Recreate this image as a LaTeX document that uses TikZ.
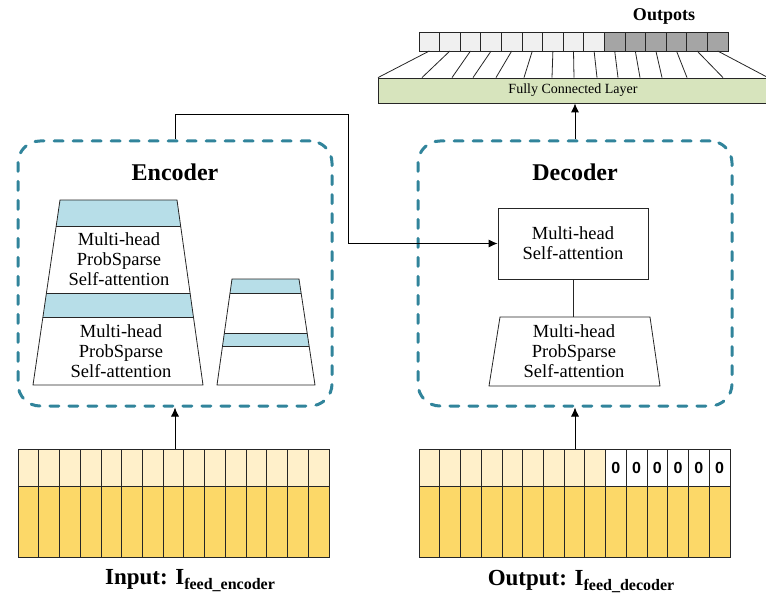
\documentclass[tikz,border=0pt]{standalone}
\usepackage{fontspec}
\setmainfont{Liberation Serif}
\newfontfamily\digitfont{Liberation Sans}
\usepackage{tikz}
\usetikzlibrary{positioning,arrows.meta,calc}

\definecolor{dashteal}{HTML}{31849B}
\definecolor{bandblue}{HTML}{B7DEE8}
\definecolor{cellpale}{HTML}{FFF0CA}
\definecolor{cellgold}{HTML}{FCD868}
\definecolor{fcgreen}{HTML}{D7E4BD}
\definecolor{outlight}{HTML}{F0F0F0}
\definecolor{outdark}{HTML}{A5A5A5}

\begin{document}
\begin{tikzpicture}[
  x=1pt, y=-1pt, >={Latex[length=9pt,width=8pt]},
  txt/.style={font=\fontsize{18.5}{19.7}\selectfont, align=center},
  title/.style={font=\fontsize{24}{26}\selectfont\bfseries},
  lbl/.style={font=\fontsize{23}{26}\selectfont\bfseries},
  block/.style={draw=dashteal, line width=3pt, dash pattern=on 9pt off 10pt,
                line cap=round, rounded corners=22pt,
                minimum width=314pt, minimum height=265pt},
  thinline/.style={draw=black!85, line width=0.8pt},
  ocell/.style={thinline, minimum width=20.6pt, minimum height=19pt,
                inner sep=0pt, outer sep=0pt},
  arr/.style={->, line width=0.8pt},
]
\useasboundingbox (0,0) rectangle (766,599);

% output layer
\node[font=\fontsize{18}{20}\selectfont\bfseries] (otitle) at (664,16) {Outpots};
\foreach \i in {1,...,15}{
  \ifnum\i<10 \def\ocol{outlight}\else\def\ocol{outdark}\fi
  \node[ocell, fill=\ocol] (o\i) at (419+20.6*\i-10.3,41.5) {};
}
\node[thinline, fill=fcgreen, minimum width=390pt, minimum height=25pt,
      inner sep=0pt, font=\fontsize{14}{15}\selectfont] (fc) at (573,90.5)
  {Fully Connected Layer};
\foreach \i/\bx in {1/378,2/422,3/452,4/473,5/496,6/524,7/552,8/574,
                    9/597,10/618,11/640,12/662,13/687,14/723,15/768}
  \draw[thinline] (o\i.south) -- (\bx,0 |- fc.north);

% encoder
\node[block] (enc) at (175,273.5) {};
\node[title] (enctitle) at (175,172) {Encoder};
\begin{scope}
  \clip (60,200) -- (177,200) -- (203,385) -- (33,385) -- cycle;
  \fill[bandblue] (20,200) rectangle (220,226);
  \fill[bandblue] (20,293) rectangle (220,317);
  \draw[thinline] (20,226) -- (220,226) (20,293) -- (220,293) (20,317) -- (220,317);
\end{scope}
\draw[thinline] (60,200) -- (177,200) -- (203,385) -- (33,385) -- cycle;
\node[txt] (eatt1) at (119,259) {Multi-head\\ProbSparse\\Self-attention};
\node[txt] (eatt2) at (121,351) {Multi-head\\ProbSparse\\Self-attention};

\begin{scope}
  \clip (232,279) -- (299,279) -- (315,385) -- (217,385) -- cycle;
  \fill[bandblue] (210,279) rectangle (320,293);
  \fill[bandblue] (210,333) rectangle (320,346);
  \draw[thinline] (210,293) -- (320,293) (210,333) -- (320,333) (210,346) -- (320,346);
\end{scope}
\draw[thinline] (232,279) -- (299,279) -- (315,385) -- (217,385) -- cycle;

% decoder
\node[block] (dec) at (575,273.5) {};
\node[title] (dectitle) at (575,172) {Decoder};
\node[thinline, txt, minimum width=150pt, minimum height=71pt] (mhsa) at (573,243.5)
  {Multi-head\\Self-attention};
\draw[thinline] (500,317) -- (650,317) -- (660,386) -- (489,386) -- cycle;
\coordinate (dtop) at (573,317);
\node[txt] (datt) at (574,351) {Multi-head\\ProbSparse\\Self-attention};
\draw[thinline] (mhsa.south) -- (dtop);

% input sequences
\node[inner sep=0pt, minimum width=311pt, minimum height=108pt] (inseq) at (173.5,503) {};
\node[inner sep=0pt, minimum width=311pt, minimum height=108pt] (outseq) at (574.5,503) {};
\foreach \i in {0,...,14}{
  \draw[thinline, fill=cellpale] (18+20.73*\i,449) rectangle ++(20.73,37);
  \draw[thinline, fill=cellgold] (18+20.73*\i,486) rectangle ++(20.73,71);
  \ifnum\i<9
    \draw[thinline, fill=cellpale] (419+20.73*\i,449) rectangle ++(20.73,37);
  \else
    \draw[thinline, fill=white] (419+20.73*\i,449) rectangle ++(20.73,37)
      node[midway, font=\digitfont\bfseries\fontsize{16}{16}\selectfont] {0};
  \fi
  \draw[thinline, fill=cellgold] (419+20.73*\i,486) rectangle ++(20.73,71);
}
\node[lbl] (inlbl) at (190,581)
  {Input: I\raisebox{-5pt}{\fontsize{16}{16}\selectfont feed\_encoder}};
\node[lbl] (outlbl) at (581,581)
  {Output: I\raisebox{-5pt}{\fontsize{16}{16}\selectfont feed\_decoder}};

% connectors
\draw[arr] (inseq.north -| enc.south) -- (enc.south);
\draw[arr] (outseq.north -| dec.south) -- (dec.south);
\draw[arr] (dec.north) -- (dec.north |- fc.south);
\draw[arr] (enc.north) |- ++(173,-25) |- (mhsa.west);
\end{tikzpicture}
\end{document}
